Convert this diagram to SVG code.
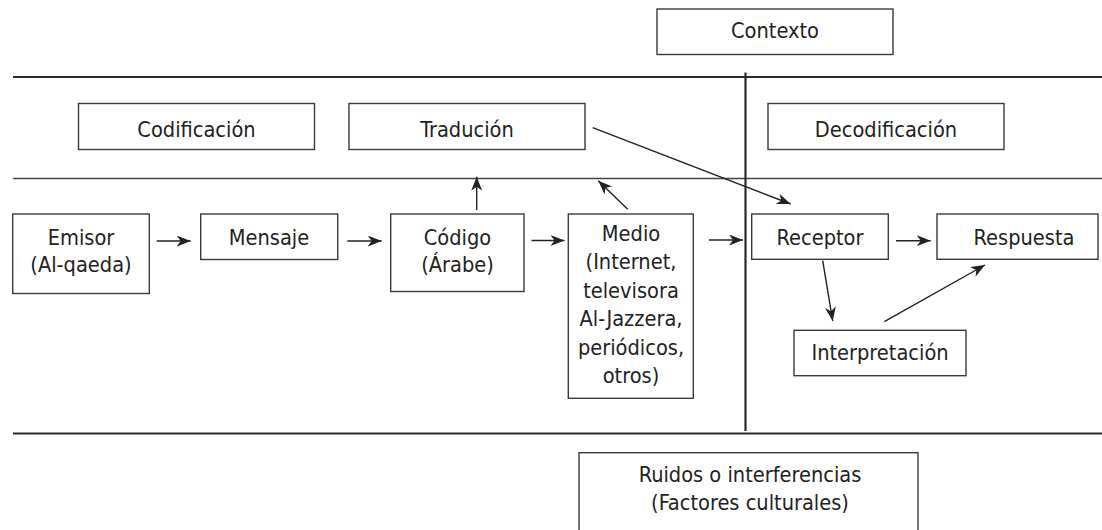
<svg xmlns="http://www.w3.org/2000/svg" width="1102" height="530" viewBox="0 0 1102 530">
<style>
.box{fill:#fff;stroke:#3a3a3a;stroke-width:1.4}
.t{font-family:"DejaVu Sans Condensed","Liberation Sans",sans-serif;font-stretch:condensed;font-size:21.6px;fill:#222;text-anchor:middle}
.rule{stroke:#2a2a2a;stroke-width:2.2;fill:none}
.rule2{stroke:#444;stroke-width:1.5;fill:none}
.c{stroke:#222;stroke-width:1.4;fill:none;marker-end:url(#ah)}
</style>
<defs>
<marker id="ah" markerUnits="userSpaceOnUse" markerWidth="15" markerHeight="12" refX="14" refY="5.5" orient="auto">
<path d="M0,0 L14,5.5 L0,11 L4,5.5 z" fill="#222"/>
</marker>
</defs>
<g id="rules">
<line class="rule" x1="13" y1="77" x2="1102" y2="77"/>
<line class="rule2" x1="13" y1="178.5" x2="1102" y2="178.5"/>
<line class="rule" x1="13" y1="433.5" x2="1102" y2="433.5"/>
<line class="rule" x1="745.5" y1="72.5" x2="745.5" y2="431"/>
</g>
<g id="contexto"><rect class="box" x="657" y="9" width="236" height="45.5"/><text class="t" x="775" y="38">Contexto</text></g>
<g id="codificacion"><rect class="box" x="78.5" y="103.5" width="236" height="46"/><text class="t" x="196.5" y="136.5">Codificación</text></g>
<g id="traducion"><rect class="box" x="349" y="103.5" width="236" height="46"/><text class="t" x="467" y="136.5">Tradución</text></g>
<g id="decodificacion"><rect class="box" x="768" y="103.5" width="236" height="46"/><text class="t" x="886" y="136.5">Decodificación</text></g>
<g id="emisor"><rect class="box" x="12.7" y="214" width="136.6" height="79.5"/><text class="t" x="81" y="244.5">Emisor</text><text class="t" x="81" y="271.5">(Al-qaeda)</text></g>
<g id="mensaje"><rect class="box" x="200.7" y="214" width="137" height="45.5"/><text class="t" x="269" y="244.5">Mensaje</text></g>
<g id="codigo"><rect class="box" x="390.7" y="214" width="133.3" height="77.5"/><text class="t" x="457.5" y="244.5">Código</text><text class="t" x="457.5" y="271.5">(Árabe)</text></g>
<g id="medio"><rect class="box" x="568.3" y="214" width="125" height="184.3"/>
<text class="t" x="631" y="240.5">Medio</text>
<text class="t" x="631" y="269">(Internet,</text>
<text class="t" x="631" y="297.5">televisora</text>
<text class="t" x="631" y="326">Al-Jazzera,</text>
<text class="t" x="631" y="354.7">periódicos,</text>
<text class="t" x="631" y="383.3">otros)</text></g>
<g id="receptor"><rect class="box" x="751.7" y="214" width="136.6" height="45.3"/><text class="t" x="820" y="244.5">Receptor</text></g>
<g id="respuesta"><rect class="box" x="937" y="214" width="161" height="45.3"/><text class="t" x="1024" y="244.5">Respuesta</text></g>
<g id="interpretacion"><rect class="box" x="794" y="330.3" width="172" height="45.4"/><text class="t" x="880" y="360">Interpretación</text></g>
<g id="ruidos"><rect class="box" x="579" y="452.7" width="339" height="90"/><text class="t" x="750" y="481.7">Ruidos o interferencias</text><text class="t" x="750" y="510">(Factores culturales)</text></g>
<g id="connectors">
<line class="c" x1="156.7" y1="241" x2="190.7" y2="241"/>
<line class="c" x1="347.3" y1="241" x2="381.7" y2="241"/>
<line class="c" x1="531.5" y1="240.5" x2="564.5" y2="240.5"/>
<line class="c" x1="709" y1="240" x2="743" y2="240"/>
<line class="c" x1="896" y1="240.7" x2="930.7" y2="240.7"/>
<line class="c" x1="476.7" y1="210" x2="476.7" y2="176.7"/>
<line class="c" x1="627.7" y1="209.3" x2="598.3" y2="180.7"/>
<line class="c" x1="592.7" y1="127.7" x2="790.7" y2="204"/>
<line class="c" x1="822.7" y1="260.7" x2="832.7" y2="321"/>
<line class="c" x1="884.3" y1="321.7" x2="985" y2="265"/>
</g>
</svg>
